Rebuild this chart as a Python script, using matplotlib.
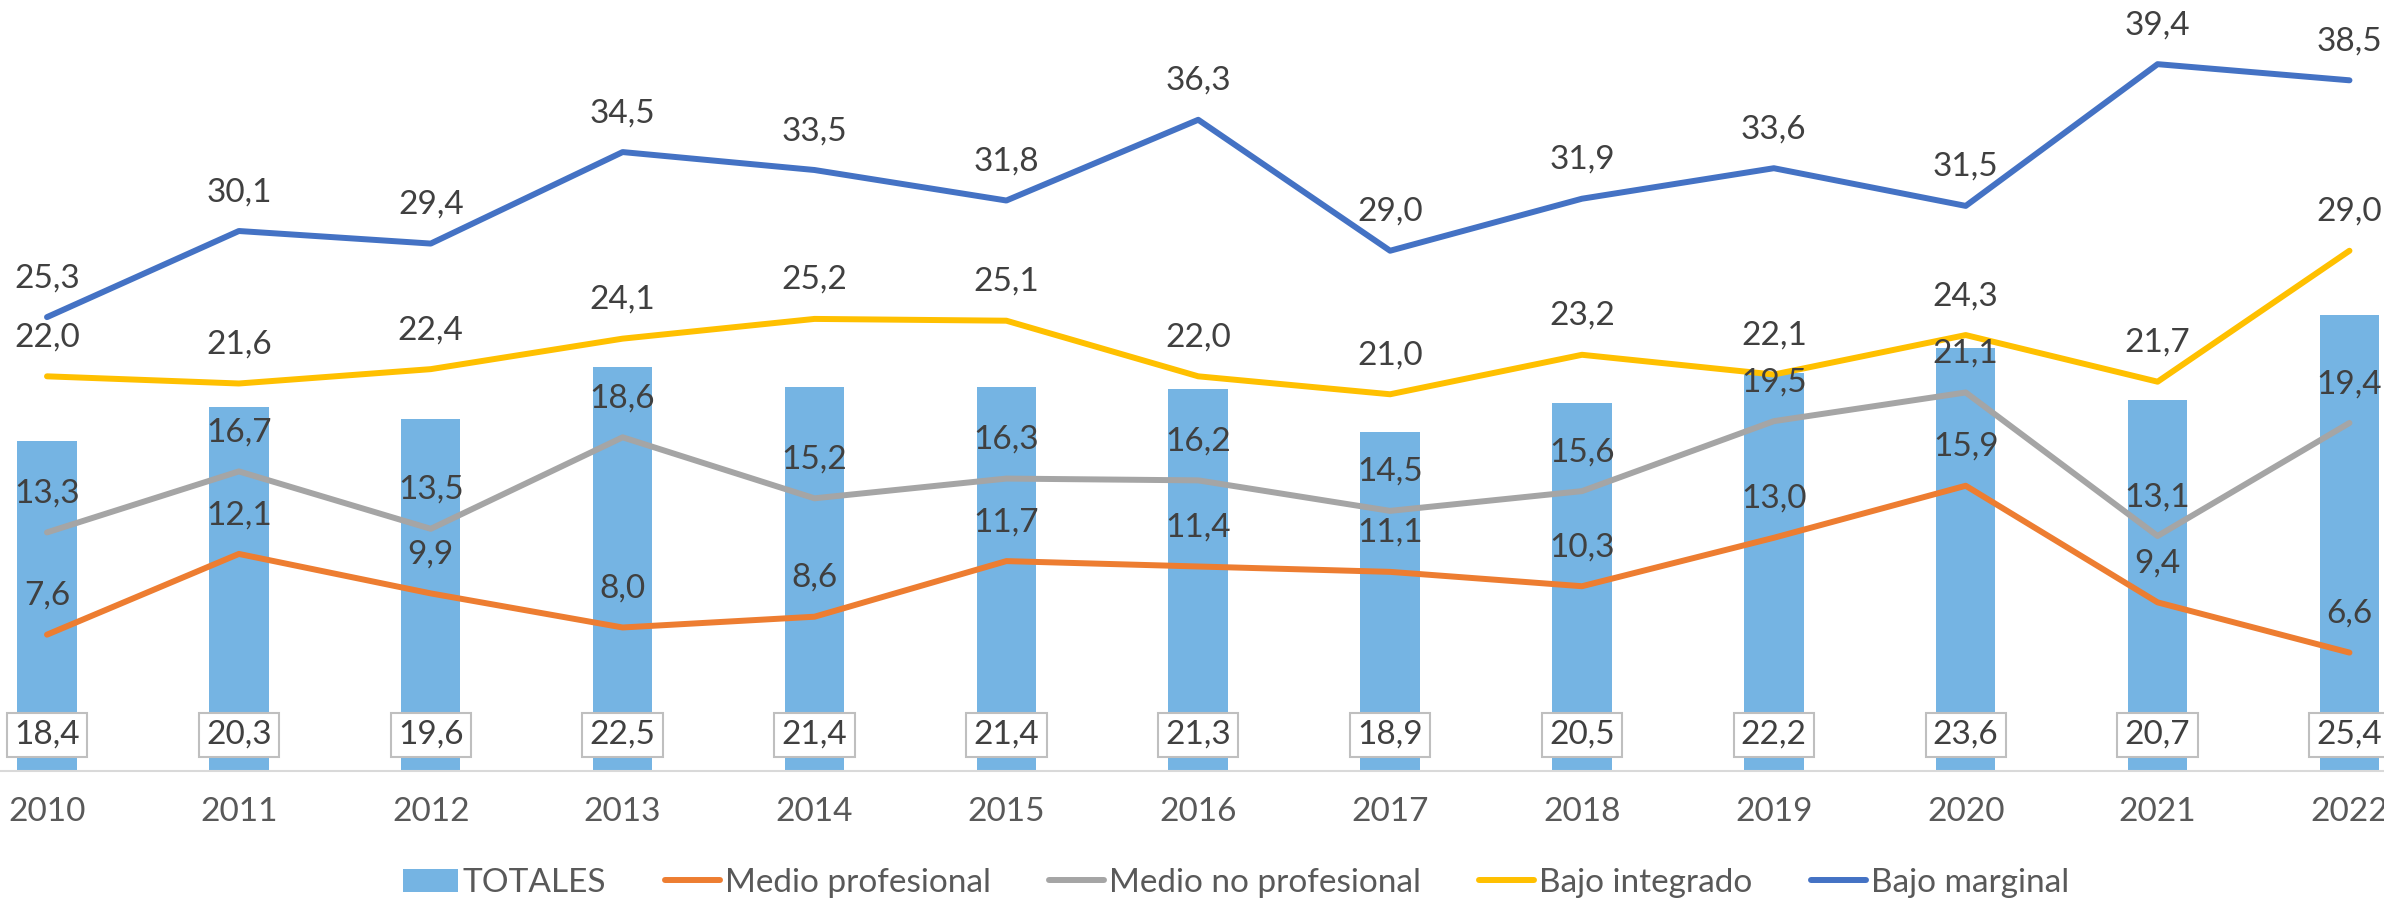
import matplotlib
matplotlib.use("Agg")
import matplotlib.pyplot as plt
import numpy as np

plt.rcParams['font.family'] = ['Lato', 'DejaVu Sans']

years = ['2010', '2011', '2012', '2013', '2014', '2015', '2016',
         '2017', '2018', '2019', '2020', '2021', '2022']
totales = [18.4, 20.3, 19.6, 22.5, 21.4, 21.4, 21.3, 18.9, 20.5, 22.2, 23.6, 20.7, 25.4]
medio_prof = [7.6, 12.1, 9.9, 8.0, 8.6, 11.7, 11.4, 11.1, 10.3, 13.0, 15.9, 9.4, 6.6]
medio_no_prof = [13.3, 16.7, 13.5, 18.6, 15.2, 16.3, 16.2, 14.5, 15.6, 19.5, 21.1, 13.1, 19.4]
bajo_integrado = [22.0, 21.6, 22.4, 24.1, 25.2, 25.1, 22.0, 21.0, 23.2, 22.1, 24.3, 21.7, 29.0]
bajo_marginal = [25.3, 30.1, 29.4, 34.5, 33.5, 31.8, 36.3, 29.0, 31.9, 33.6, 31.5, 39.4, 38.5]

series = [
    ("Medio profesional", medio_prof, "#ED7D31"),
    ("Medio no profesional", medio_no_prof, "#A5A5A5"),
    ("Bajo integrado", bajo_integrado, "#FFC000"),
    ("Bajo marginal", bajo_marginal, "#4472C4"),
]

FS = 24
TXT = "#404040"
fig = plt.figure(figsize=(23.84, 9.0), dpi=100)
ax = fig.add_axes([0.0, 129/900, 1.0, 771/900])

x = np.arange(len(years))
bars = ax.bar(x, totales, width=0.31, color="#75B4E3", label="TOTALES", zorder=1)

handles = [bars]
labels = ["TOTALES"]
for name, vals, col in series:
    ln, = ax.plot(x, vals, color=col, lw=4.3, solid_capstyle='round',
                  solid_joinstyle='round', label=name, zorder=3)
    handles.append(ln)
    labels.append(name)
    for xi, v in zip(x, vals):
        ax.annotate(f"{v:.1f}".replace('.', ','), (xi, v), xytext=(0, 28),
                    textcoords='offset points', ha='center', va='center',
                    fontsize=FS, color=TXT, zorder=5, annotation_clip=False)

for xi, v in zip(x, totales):
    ax.annotate(f"{v:.1f}".replace('.', ','), (xi, 0), xytext=(0, 26),
                textcoords='offset points', ha='center', va='center',
                fontsize=FS, color=TXT, zorder=6,
                bbox=dict(boxstyle='square,pad=0.22', fc='white', ec='#BFBFBF', lw=1.5))

ax.set_xlim(-0.245, 12.18)
ax.set_ylim(0, 771/17.94)
ax.set_xticks(x)
ax.set_xticklabels(years, fontsize=FS, color="#595959")
ax.tick_params(axis='x', length=0, pad=19)
ax.set_yticks([])
for s in ['top', 'right', 'left']:
    ax.spines[s].set_visible(False)
ax.spines['bottom'].set_color('#D9D9D9')
ax.spines['bottom'].set_linewidth(1.5)

leg = fig.legend(handles, labels, loc='center', bbox_to_anchor=(0.5185, 17/900), ncol=5,
                 frameon=False, fontsize=FS, handlelength=1.65, handletextpad=0.15,
                 columnspacing=1.75, borderaxespad=0)
for t in leg.get_texts():
    t.set_color("#595959")

fig.savefig("out.png", dpi=100)
